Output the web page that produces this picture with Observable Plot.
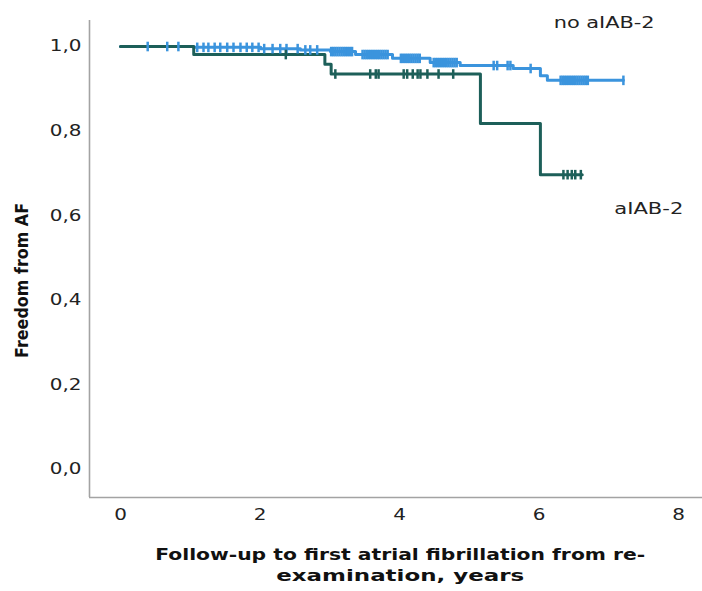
<!DOCTYPE html>
<html>
<head>
<meta charset="utf-8">
<script src="https://cdn.jsdelivr.net/npm/d3@7"></script>
<script src="https://cdn.jsdelivr.net/npm/@observablehq/plot@0.6"></script>
<style>
  html, body { margin: 0; padding: 0; background: #fff; }
  #chart svg { display: block; }
</style>
</head>
<body>
<div id="chart"></div>
<script>
// ---- Data ----
const groups = ["no aIAB-2", "aIAB-2"];

// Step (event) times and survival values, "no aIAB-2"
const noTimes = [0, 1.05, 2.01, 2.58, 3.01, 3.37, 3.90, 4.44, 4.87, 5.63, 6.02, 6.12, 7.21];
const noSurv  = [1.0, 0.998, 0.995, 0.992, 0.988, 0.981, 0.972, 0.962, 0.955, 0.948, 0.931, 0.920, 0.920];

// Step (event) times and survival values, "aIAB-2"
const yesTimes = [0, 1.05, 2.93, 3.02, 5.16, 6.02, 6.62];
const yesSurv  = [1.0, 0.981, 0.958, 0.935, 0.818, 0.697, 0.697];

// Censoring times
const noCensor = [0.39, 0.67, 0.83, 1.10, 1.19, 1.26, 1.35, 1.43, 1.53, 1.62, 1.72, 1.81, 1.89, 1.98,
  2.06, 2.18, 2.29, 2.38, 2.54, 2.65, 2.72, 2.82,
  3.02, 3.05, 3.08, 3.11, 3.14, 3.17, 3.20, 3.23, 3.26, 3.29, 3.32,
  3.47, 3.50, 3.53, 3.56, 3.59, 3.62, 3.65, 3.68, 3.71, 3.74, 3.77, 3.80, 3.83,
  4.02, 4.05, 4.08, 4.11, 4.14, 4.17, 4.20, 4.23, 4.26, 4.29,
  4.49, 4.52, 4.55, 4.58, 4.61, 4.64, 4.67, 4.70, 4.73, 4.76, 4.79, 4.82,
  5.35, 5.40, 5.55, 5.59, 5.88,
  6.31, 6.34, 6.37, 6.40, 6.43, 6.46, 6.49, 6.52, 6.55, 6.58, 6.61, 6.64, 6.67, 6.70, 7.21];
const yesCensor = [2.37, 3.08, 3.58, 3.66, 3.70, 4.06, 4.11, 4.19, 4.26, 4.30, 4.40, 4.56, 4.77,
  6.35, 6.41, 6.47, 6.52, 6.60];

const xTicks = [0, 2, 4, 6, 8];
const yTicks = [0, 0.2, 0.4, 0.6, 0.8, 1.0];
const colors = ["#3b94dd", "#1d5f59"];
const xTitle = ["Follow-up to first atrial fibrillation from re-", "examination, years"];
const yTitle = "Freedom from AF";

// ---- Build tables ----
const curves = [
  ...noTimes.map((t, i) => ({group: groups[0], t, s: noSurv[i]})),
  ...yesTimes.map((t, i) => ({group: groups[1], t, s: yesSurv[i]}))
];
function stepValue(times, surv, t) {
  let v = surv[0];
  for (let i = 0; i < times.length; i++) if (times[i] <= t) v = surv[i];
  return v;
}
const censors = [
  ...noCensor.map(t => ({group: groups[0], t, s: stepValue(noTimes, noSurv, t)})),
  ...yesCensor.map(t => ({group: groups[1], t, s: stepValue(yesTimes, yesSurv, t)}))
];

const vbar = {
  draw(context, size) {
    const r = Math.sqrt(size / Math.PI);
    context.moveTo(0, -r);
    context.lineTo(0, r);
  }
};

const xDom = [-0.4444, 8.344];
const yDom = [-0.0662, 1.0615];
const axisColor = "#a3a3a3";
const font = "'DejaVu Sans', 'Noto Sans', sans-serif";

const chart = Plot.plot({
  width: 702,
  height: 591,
  marginLeft: 89,
  marginRight: 0,
  marginTop: 20,
  marginBottom: 94,
  style: {fontFamily: font, fontSize: "15px", background: "#fff", overflow: "visible"},
  x: {domain: xDom, ticks: xTicks},
  y: {domain: yDom, ticks: yTicks},
  color: {domain: groups, range: colors},
  marks: [
    Plot.axisX({ticks: xTicks, tickSize: 0, tickPadding: 12, label: null, color: "#222", fontSize: 15}),
    Plot.axisY({ticks: yTicks, tickSize: 0, tickPadding: 8, label: null, color: "#222", fontSize: 15,
      tickFormat: d => d.toFixed(1).replace(".", ",")}),
    Plot.ruleX([xDom[0]], {y1: yDom[0], y2: yDom[1], stroke: axisColor, strokeWidth: 1.6}),
    Plot.ruleY([yDom[0]], {x1: xDom[0], x2: xDom[1], stroke: axisColor, strokeWidth: 1.6}),
    Plot.line(curves, {x: "t", y: "s", z: "group", stroke: "group", curve: "step-after", strokeWidth: 3}),
    Plot.dot(censors, {x: "t", y: "s", stroke: "group", symbol: vbar, r: 4.8, strokeWidth: 2.5}),
    Plot.text([groups[0]], {x: 6.21, y: 1.0567, text: d => d, textAnchor: "start", fontSize: 16, fill: "#222", className: "lbl-no"}),
    Plot.text([groups[1]], {x: 7.08, y: 0.617, text: d => d, textAnchor: "start", fontSize: 16, fill: "#222", className: "lbl-yes"}),
    Plot.text([yTitle], {x: -1.405, y: 0.447, text: d => d, rotate: -90, fontSize: 17, fontWeight: "bold", fill: "#111", className: "ttl-y"}),
    Plot.text([xTitle[0]], {x: 4.01, y: -0.203, text: d => d, fontSize: 16, fontWeight: "bold", fill: "#111", className: "ttl-x1"}),
    Plot.text([xTitle[1]], {x: 4.01, y: -0.251, text: d => d, fontSize: 16, fontWeight: "bold", fill: "#111", className: "ttl-x2"})
  ]
});
document.getElementById("chart").appendChild(chart);

// The reference's texts are drawn horizontally wider than the font's natural proportions
const fixedLengths = {"lbl-no": 101, "lbl-yes": 69, "ttl-y": 155, "ttl-x1": 490, "ttl-x2": 248};
d3.select(chart).selectAll("text").each(function() {
  const g = this.closest("g");
  const cls = g ? (g.getAttribute("class") || "") : "";
  let target = null;
  for (const k in fixedLengths) if (cls.includes(k)) target = fixedLengths[k];
  if (target == null) {
    const len = this.getComputedTextLength();
    if (len > 0) target = len * 1.33;
  }
  if (target) d3.select(this).attr("textLength", target).attr("lengthAdjust", "spacingAndGlyphs");
});
</script>
</body>
</html>
